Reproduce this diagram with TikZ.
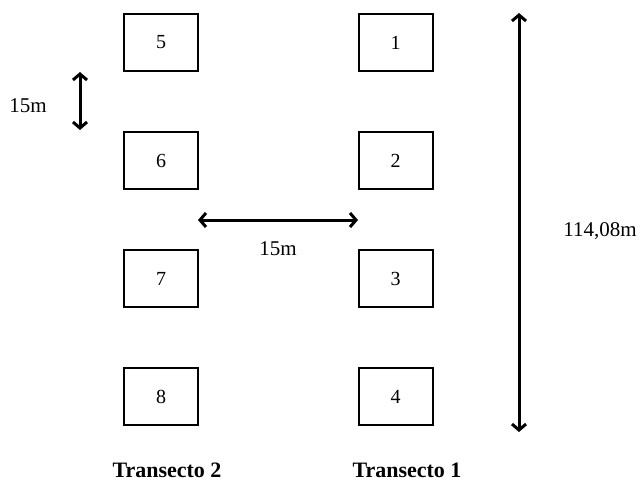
\documentclass[tikz,border=0pt]{standalone}
\usepackage{fontspec}
\setmainfont{Liberation Serif}
\usetikzlibrary{positioning, arrows.meta}

\begin{document}
\begin{tikzpicture}[x=1pt, y=-1pt,
        plot/.style={rectangle, draw, line width=2pt, minimum width=74pt, minimum height=57pt, inner sep=0pt, font=\fontsize{20}{23}\selectfont},
        dim/.style={<->, line width=3pt, >={Straight Barb[length=6pt, width=14pt, line width=3pt]}},
        lbl/.style={font=\fontsize{21}{24}\selectfont},
        title/.style={font=\fontsize{22}{25}\selectfont\bfseries}
    ]
        \useasboundingbox (0,0) rectangle (642,499);

        % Transecto 1
        \node[plot] (p1) at (395.5,42.5) {1};
        \node[plot, below=59pt of p1] (p2) {2};
        \node[plot, below=59pt of p2] (p3) {3};
        \node[plot, below=59pt of p3] (p4) {4};

        % Transecto 2
        \node[plot] (p5) at (161,42.5) {5};
        \node[plot, below=59pt of p5] (p6) {6};
        \node[plot, below=59pt of p6] (p7) {7};
        \node[plot, below=59pt of p7] (p8) {8};

        \node[title] (t2) at (167,470) {Transecto 2};
        \node[title] (t1) at (407,470) {Transecto 1};

        % Distances
        \coordinate (v1) at (80,72);
        \coordinate (v2) at (80,130);
        \draw[dim] (v1) -- (v2);
        \node[lbl] (dv) at (28,106) {15m};

        \coordinate (h1) at (198,220);
        \coordinate (h2) at (358,220);
        \draw[dim] (h1) -- (h2);
        \node[lbl] (dh) at (278,249) {15m};

        \coordinate (l1) at (519,13);
        \coordinate (l2) at (519,432);
        \draw[dim] (l1) -- (l2);
        \node[lbl] (dl) at (600,231) {114,08m};

    \end{tikzpicture}
\end{document}
